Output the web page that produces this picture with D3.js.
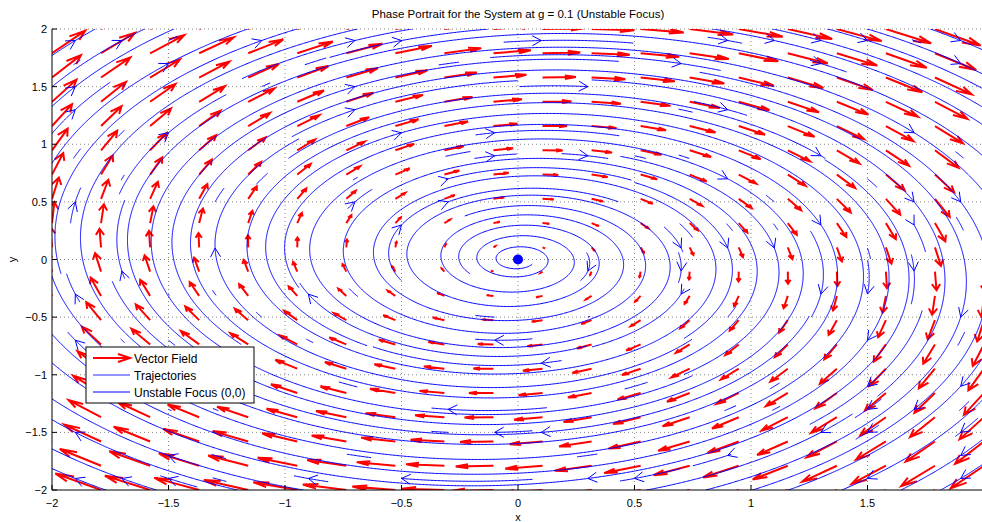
<!DOCTYPE html>
<html>
<head>
<meta charset="utf-8">
<script src="https://cdn.jsdelivr.net/npm/d3@7"></script>
<style>
  body { margin: 0; background: #fff; }
  text { font-family: "Liberation Sans", Arial, Helvetica, sans-serif; fill: #000; }
</style>
</head>
<body>
<svg id="chart"></svg>
<script>
var W = 982, H = 522;

// system: x' = g*x + y , y' = -x + g*y
var g = 0.1;

// quiver sample grid (linspace(-2, 2, 20))
var gridX = [-2, -1.7895, -1.5789, -1.3684, -1.1579, -0.9474, -0.7368, -0.5263, -0.3158, -0.1053,
             0.1053, 0.3158, 0.5263, 0.7368, 0.9474, 1.1579, 1.3684, 1.5789, 1.7895, 2];
var gridY = gridX.slice();
var quiverScale = 0.09;

// streamline seeds (start grid cell centres)
var seedX = [-1.9, -1.7, -1.5, -1.3, -1.1, -0.9, -0.7, -0.5, -0.3, -0.1,
             0.1, 0.3, 0.5, 0.7, 0.9, 1.1, 1.3, 1.5, 1.7, 1.9];
var seedY = seedX.slice();

var xTicks = [-2, -1.5, -1, -0.5, 0, 0.5, 1, 1.5];
var yTicks = [-2, -1.5, -1, -0.5, 0, 0.5, 1, 1.5, 2];
var focusPts = [[0, 0]];
var legendLabels = ["Vector Field", "Trajectories", "Unstable Focus (0,0)"];
var titleText = "Phase Portrait for the System at g = 0.1 (Unstable Focus)";

var svg = d3.select("#chart").attr("width", W).attr("height", H);

var x = d3.scaleLinear().domain([-2, 2]).range([52, 984]);
var y = d3.scaleLinear().domain([-2, 2]).range([490, 29]);

svg.append("clipPath").attr("id", "plotclip")
  .append("rect")
  .attr("x", x(-2)).attr("y", y(2))
  .attr("width", x(2) - x(-2) + 10).attr("height", y(-2) - y(2));

// grid lines
var gridG = svg.append("g");
gridG.selectAll("line.gx").data(xTicks.filter(d => d > -2)).enter().append("line")
  .attr("x1", d => x(d)).attr("x2", d => x(d))
  .attr("y1", y(-2)).attr("y2", y(2))
  .attr("stroke", "#888").attr("stroke-width", 1).attr("stroke-dasharray", "1,3");
gridG.selectAll("line.gy").data(yTicks.filter(d => d > -2)).enter().append("line")
  .attr("x1", x(-2)).attr("x2", W)
  .attr("y1", d => y(d)).attr("y2", d => y(d))
  .attr("stroke", "#888").attr("stroke-width", 1).attr("stroke-dasharray", "1,3");

function vel(p) {
  return [g * p[0] + p[1], -p[0] + g * p[1]];
}

// vector field (quiver)
var arrows = [];
gridX.forEach(function(px) {
  gridY.forEach(function(py) {
    var v = vel([px, py]);
    arrows.push({x: px, y: py, u: v[0] * quiverScale, v: v[1] * quiverScale});
  });
});

var plot = svg.append("g").attr("clip-path", "url(#plotclip)");

var alpha = 0.33, beta = 0.33;
var qG = plot.append("g");
qG.selectAll("path").data(arrows).enter().append("path")
  .attr("d", function(a) {
    var tx = a.x + a.u, ty = a.y + a.v;
    var h1 = [tx - alpha * (a.u + beta * a.v), ty - alpha * (a.v - beta * a.u)];
    var h2 = [tx - alpha * (a.u - beta * a.v), ty - alpha * (a.v + beta * a.u)];
    return "M" + x(a.x) + "," + y(a.y) + "L" + x(tx) + "," + y(ty) +
           "M" + x(h1[0]) + "," + y(h1[1]) + "L" + x(tx) + "," + y(ty) + "L" + x(h2[0]) + "," + y(h2[1]);
  })
  .attr("fill", "none").attr("stroke", "#ff0000").attr("stroke-width", 2)
  .attr("stroke-linejoin", "miter");

// streamlines (evenly spaced, like streamslice)
var N_END = 64, STEP = 0.006;
var endOwner = new Int32Array(N_END * N_END);
var endStamp = new Int32Array(N_END * N_END);

function cellOf(p, n) {
  var i = Math.floor((p[0] + 2) / 4 * n), j = Math.floor((p[1] + 2) / 4 * n);
  if (i < 0 || j < 0 || i >= n || j >= n) return -1;
  return j * n + i;
}
function dir(p, s) {
  var v = vel(p), n = Math.hypot(v[0], v[1]);
  if (n < 1e-9) return null;
  return [s * v[0] / n, s * v[1] / n];
}
function trace(p0, s, id, t0) {
  var pts = [], p = p0, cur = cellOf(p0, N_END), t = t0;
  for (var k = 0; k < 6000; k++) {
    var d1 = dir(p, s); if (!d1) break;
    var d2 = dir([p[0] + d1[0] * STEP / 2, p[1] + d1[1] * STEP / 2], s); if (!d2) break;
    var q = [p[0] + d2[0] * STEP, p[1] + d2[1] * STEP];
    if (Math.hypot(q[0], q[1]) < 0.015) break;
    var c = cellOf(q, N_END);
    if (c < 0) { pts.push(q); break; }
    t++;
    if (c !== cur) {
      if (endOwner[c] && (endOwner[c] !== id || Math.abs(t - endStamp[c]) > 25)) break;
      endOwner[c] = id; endStamp[c] = t; cur = c;
    }
    pts.push(q);
    p = q;
  }
  return pts;
}

var seeds = [];
seedY.forEach(function(sy) { seedX.forEach(function(sx) { seeds.push([sx, sy]); }); });
var order = seeds.map(function(d, i) { return seeds[(i * 137) % seeds.length]; });

var lines = [], heads = [];
var lineId = 0;
order.forEach(function(s) {
  var ec = cellOf(s, N_END);
  if (endOwner[ec]) return;
  lineId++;
  endOwner[ec] = lineId; endStamp[ec] = 0;
  var fwd = trace(s, 1, lineId, 0);
  var bwd = trace(s, -1, lineId, 100000);
  var pts = bwd.reverse().concat([s], fwd);
  if (pts.length < 3) return;
  lines.push(pts);
  if (pts.length * STEP > 0.15) heads.push({p: s, d: dir(s, 1)});
});

var line = d3.line().x(d => x(d[0])).y(d => y(d[1]));
var sG = plot.append("g");
sG.selectAll("path.sl").data(lines).enter().append("path")
  .attr("d", line)
  .attr("fill", "none").attr("stroke", "#0000ff").attr("stroke-width", 1);

sG.selectAll("path.hd").data(heads.filter(h => h.d)).enter().append("path")
  .attr("d", function(h) {
    var px = x(h.p[0]), py = y(h.p[1]);
    var dx = h.d[0] * (x(1) - x(0)), dy = h.d[1] * (y(1) - y(0));
    var n = Math.hypot(dx, dy); dx /= n; dy /= n;
    var L = 9, Wd = 5;
    var bx = px - L * dx, by = py - L * dy;
    return "M" + (bx - Wd * dy) + "," + (by + Wd * dx) + "L" + px + "," + py +
           "L" + (bx + Wd * dy) + "," + (by - Wd * dx);
  })
  .attr("fill", "none").attr("stroke", "#0000ff").attr("stroke-width", 1);

// unstable focus
plot.selectAll("circle.focus").data(focusPts).enter().append("circle")
  .attr("cx", d => x(d[0])).attr("cy", d => y(d[1])).attr("r", 5)
  .attr("fill", "#0000ff");

// axes
var axG = svg.append("g");
axG.append("line").attr("x1", x(-2)).attr("x2", x(-2)).attr("y1", y(2)).attr("y2", y(-2))
  .attr("stroke", "#000").attr("stroke-width", 1);
axG.append("line").attr("x1", x(-2)).attr("x2", W).attr("y1", y(-2)).attr("y2", y(-2))
  .attr("stroke", "#000").attr("stroke-width", 1);

axG.selectAll("line.xt").data(xTicks).enter().append("line")
  .attr("x1", d => x(d)).attr("x2", d => x(d))
  .attr("y1", y(-2)).attr("y2", y(-2) - 5)
  .attr("stroke", "#000");
axG.selectAll("line.yt").data(yTicks).enter().append("line")
  .attr("x1", x(-2)).attr("x2", x(-2) + 5)
  .attr("y1", d => y(d)).attr("y2", d => y(d))
  .attr("stroke", "#000");

axG.selectAll("text.xl").data(xTicks).enter().append("text")
  .attr("x", d => x(d)).attr("y", 507)
  .attr("text-anchor", "middle").attr("font-size", 11)
  .text(d => d < 0 ? "\u2212" + Math.abs(d) : d);
axG.selectAll("text.yl").data(yTicks).enter().append("text")
  .attr("x", x(-2) - 5).attr("y", d => y(d) + 4)
  .attr("text-anchor", "end").attr("font-size", 11)
  .text(d => d < 0 ? "\u2212" + Math.abs(d) : d);

svg.append("text").attr("x", x(0)).attr("y", 521)
  .attr("text-anchor", "middle").attr("font-size", 11).text("x");
svg.append("text").attr("transform", "translate(16," + y(0) + ") rotate(-90)")
  .attr("text-anchor", "middle").attr("font-size", 11).text("y");
svg.append("text").attr("x", x(0)).attr("y", 18)
  .attr("text-anchor", "middle").attr("font-size", 11.5).text(titleText);

// legend
var lg = svg.append("g").attr("transform", "translate(86,347)");
lg.append("rect").attr("width", 168).attr("height", 56)
  .attr("fill", "#fff").attr("stroke", "#000").attr("stroke-width", 1);
var legendStyles = [
  {stroke: "#ff0000", width: 2, arrow: true},
  {stroke: "#7070ff", width: 1.5, arrow: false},
  {stroke: "#0000ff", width: 1, arrow: false}
];
var entries = lg.selectAll("g.entry").data(legendLabels).enter().append("g")
  .attr("transform", (d, i) => "translate(0," + (11 + i * 17) + ")");
entries.append("line").attr("x1", 7).attr("x2", 44).attr("y1", 0).attr("y2", 0)
  .attr("stroke", (d, i) => legendStyles[i].stroke)
  .attr("stroke-width", (d, i) => legendStyles[i].width);
entries.filter((d, i) => legendStyles[i].arrow).append("path")
  .attr("d", "M32,-4L44,0L32,4")
  .attr("fill", "none").attr("stroke", "#ff0000").attr("stroke-width", 2);
entries.append("text").attr("x", 48).attr("y", 4.5).attr("font-size", 12).text(d => d);
</script>
</body>
</html>
